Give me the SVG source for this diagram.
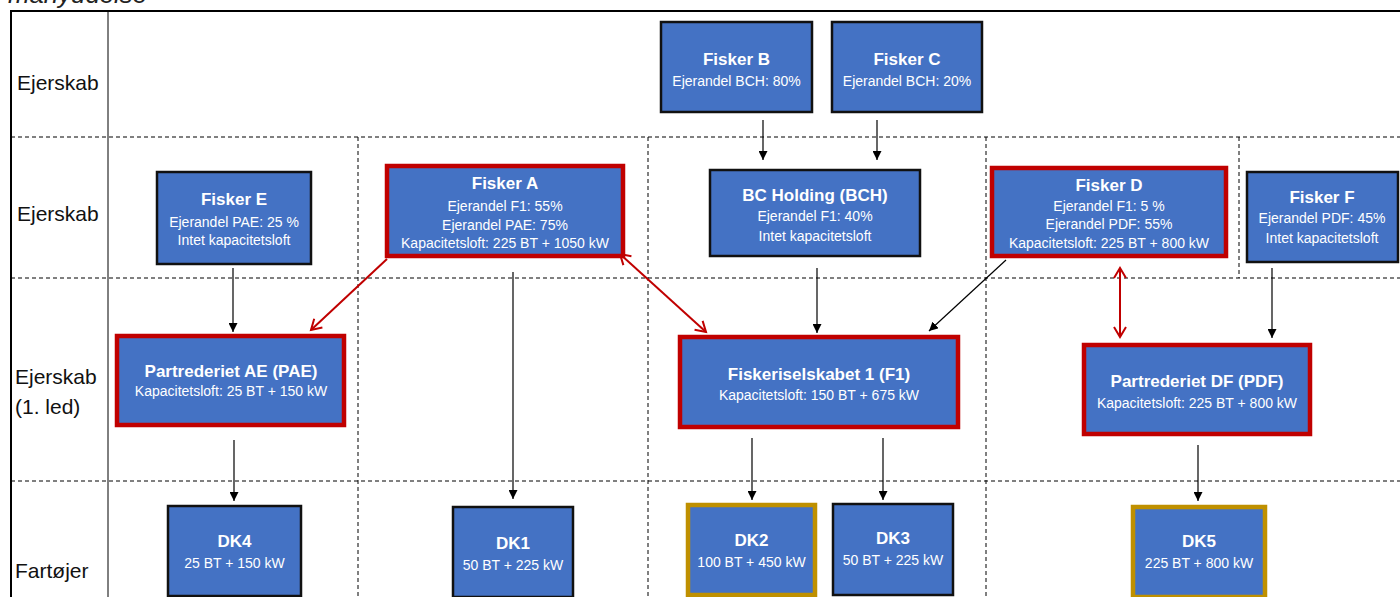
<svg xmlns="http://www.w3.org/2000/svg" width="1400" height="597" viewBox="0 0 1400 597">
<defs>
<marker id="ah" markerUnits="userSpaceOnUse" markerWidth="10" markerHeight="9" refX="9" refY="4.5" orient="auto"><path d="M0,0 L9,4.5 L0,9 z" fill="#000"/></marker>
<marker id="rh" markerUnits="userSpaceOnUse" markerWidth="14" markerHeight="14" refX="11" refY="7" orient="auto-start-reverse"><path d="M1,1 L11,7 L1,13" fill="none" stroke="#C00000" stroke-width="2"/></marker>
</defs>
<style>
.lbl{font-family:"Liberation Sans",Arial,sans-serif;font-size:21px;fill:#111}
.grid{stroke:#000;stroke-width:1;stroke-dasharray:4 3;fill:none}
.box{fill:#4472C4;stroke:#111;stroke-width:2.5}
.red{fill:#4472C4;stroke:#C00000;stroke-width:4.5}
.gold{fill:#4472C4;stroke:#BF9000;stroke-width:4.5}
.t{font-family:"Liberation Sans",Arial,sans-serif;font-weight:bold;font-size:17px;fill:#fff;text-anchor:middle}
.s{font-family:"Liberation Sans",Arial,sans-serif;font-size:14px;fill:#fff;text-anchor:middle}
.c{stroke:#000;stroke-width:1.2;fill:none;marker-end:url(#ah)}
.rc{stroke:#C00000;stroke-width:2;fill:none}
</style>
<rect width="1400" height="597" fill="#fff"/>
<text x="8" y="3" font-family="Liberation Sans,Arial,sans-serif" font-style="italic" font-size="25.8" fill="#222">manyudelse</text>
<g id="grid">
<line x1="11" y1="11" x2="1400" y2="11" stroke="#000" stroke-width="2"/>
<line x1="11" y1="10" x2="11" y2="597" stroke="#000" stroke-width="2"/>
<line x1="108" y1="11" x2="108" y2="597" stroke="#000" stroke-width="1"/>
<line class="grid" x1="11" y1="137" x2="1400" y2="137"/>
<line class="grid" x1="11" y1="278" x2="1400" y2="278"/>
<line class="grid" x1="11" y1="481" x2="1400" y2="481"/>
<line class="grid" x1="358" y1="137" x2="358" y2="597"/>
<line class="grid" x1="648" y1="137" x2="648" y2="597"/>
<line class="grid" x1="986" y1="137" x2="986" y2="597"/>
<line class="grid" x1="1239" y1="137" x2="1239" y2="278"/>
<text class="lbl" x="17" y="90">Ejerskab</text>
<text class="lbl" x="17" y="221">Ejerskab</text>
<text class="lbl" x="15" y="384">Ejerskab</text>
<text class="lbl" x="15" y="414">(1. led)</text>
<text class="lbl" x="15" y="578">Fartøjer</text>
</g>
<g id="connectors">
<line class="c" x1="763" y1="120" x2="763" y2="160"/>
<line class="c" x1="877" y1="120" x2="877" y2="160"/>
<line class="c" x1="233" y1="268" x2="233" y2="332"/>
<line class="c" x1="817" y1="268" x2="817" y2="333"/>
<line class="c" x1="1272" y1="268" x2="1272" y2="338"/>
<line class="c" x1="513" y1="272" x2="513" y2="499"/>
<line class="c" x1="234" y1="440" x2="234" y2="501"/>
<line class="c" x1="752" y1="438" x2="752" y2="500"/>
<line class="c" x1="883" y1="438" x2="883" y2="500"/>
<line class="c" x1="1198" y1="445" x2="1198" y2="501"/>
<line class="c" x1="1006" y1="260" x2="929" y2="331"/>
<line class="rc" x1="387" y1="259" x2="311" y2="330" marker-end="url(#rh)"/>
<line class="rc" x1="620" y1="254" x2="706" y2="332" marker-start="url(#rh)" marker-end="url(#rh)"/>
<line class="rc" x1="1120" y1="268" x2="1120" y2="337" marker-start="url(#rh)" marker-end="url(#rh)"/>
</g>
<g id="fiskerB"><rect class="box" x="661" y="22" width="151" height="90"/><text class="t" x="736.5" y="65">Fisker B</text><text class="s" x="736.5" y="86">Ejerandel BCH: 80%</text></g>
<g id="fiskerC"><rect class="box" x="832" y="22" width="150" height="90"/><text class="t" x="907" y="65">Fisker C</text><text class="s" x="907" y="86">Ejerandel BCH: 20%</text></g>
<g id="fiskerE"><rect class="box" x="157" y="172" width="154" height="92"/><text class="t" x="234" y="205">Fisker E</text><text class="s" x="234" y="227">Ejerandel PAE: 25 %</text><text class="s" x="234" y="245">Intet kapacitetsloft</text></g>
<g id="fiskerA"><rect class="red" x="387" y="166" width="236" height="90"/><text class="t" x="505" y="189">Fisker A</text><text class="s" x="505" y="211">Ejerandel F1: 55%</text><text class="s" x="505" y="230">Ejerandel PAE: 75%</text><text class="s" x="505" y="248">Kapacitetsloft: 225 BT + 1050 kW</text></g>
<g id="bch"><rect class="box" x="710" y="170" width="210" height="86"/><text class="t" x="815" y="201">BC Holding (BCH)</text><text class="s" x="815" y="221">Ejerandel F1: 40%</text><text class="s" x="815" y="241">Intet kapacitetsloft</text></g>
<g id="fiskerD"><rect class="red" x="992" y="168" width="234" height="88"/><text class="t" x="1109" y="191">Fisker D</text><text class="s" x="1109" y="211">Ejerandel F1: 5 %</text><text class="s" x="1109" y="229">Ejerandel PDF: 55%</text><text class="s" x="1109" y="248">Kapacitetsloft: 225 BT + 800 kW</text></g>
<g id="fiskerF"><rect class="box" x="1247" y="172" width="151" height="90"/><text class="t" x="1322" y="203">Fisker F</text><text class="s" x="1322" y="223">Ejerandel PDF: 45%</text><text class="s" x="1322" y="243">Intet kapacitetsloft</text></g>
<g id="pae"><rect class="red" x="117" y="336" width="227" height="89"/><text class="t" x="231" y="377">Partrederiet AE (PAE)</text><text class="s" x="231" y="396">Kapacitetsloft: 25 BT + 150 kW</text></g>
<g id="f1"><rect class="red" x="680" y="337" width="278" height="90"/><text class="t" x="819" y="380">Fiskeriselskabet 1 (F1)</text><text class="s" x="819" y="400">Kapacitetsloft: 150 BT + 675 kW</text></g>
<g id="pdf"><rect class="red" x="1084" y="345" width="226" height="89"/><text class="t" x="1197" y="387">Partrederiet DF (PDF)</text><text class="s" x="1197" y="408">Kapacitetsloft: 225 BT + 800 kW</text></g>
<g id="dk4"><rect class="box" x="168" y="506" width="133" height="90"/><text class="t" x="234.5" y="547">DK4</text><text class="s" x="234.5" y="568">25 BT + 150 kW</text></g>
<g id="dk1"><rect class="box" x="453" y="507" width="120" height="90"/><text class="t" x="513" y="549">DK1</text><text class="s" x="513" y="570">50 BT + 225 kW</text></g>
<g id="dk2"><rect class="gold" x="688" y="505" width="127" height="90"/><text class="t" x="751.5" y="546">DK2</text><text class="s" x="751.5" y="567">100 BT + 450 kW</text></g>
<g id="dk3"><rect class="box" x="833" y="504" width="120" height="91"/><text class="t" x="893" y="544">DK3</text><text class="s" x="893" y="565">50 BT + 225 kW</text></g>
<g id="dk5"><rect class="gold" x="1133" y="507" width="132" height="90"/><text class="t" x="1199" y="547">DK5</text><text class="s" x="1199" y="568">225 BT + 800 kW</text></g>
</svg>
